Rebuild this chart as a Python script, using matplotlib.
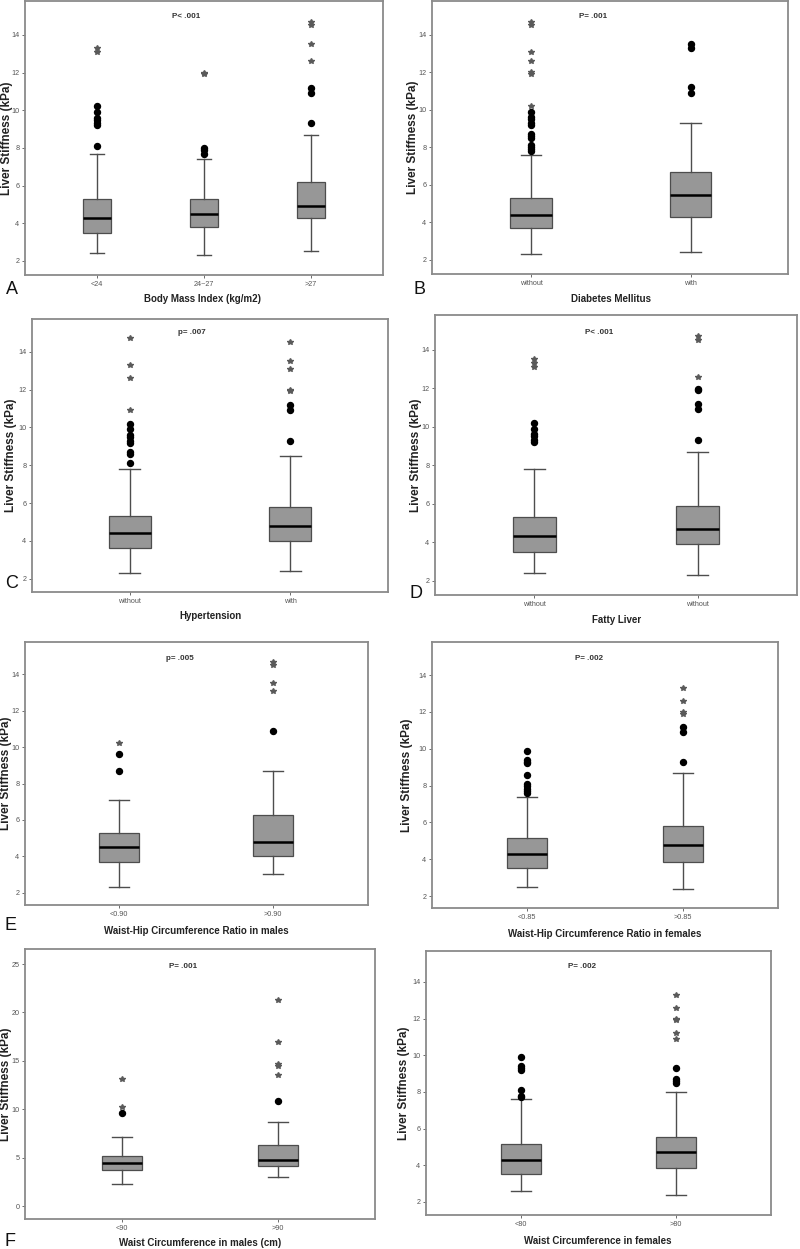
import matplotlib
matplotlib.use("Agg")
import matplotlib.pyplot as plt

plt.rcParams["font.family"] = ["Liberation Sans", "DejaVu Sans"]

# five-number summaries per group: [whisker low, q1, median, q3, whisker high]
bmi_labels = ["<24", "24~27", ">27"]
bmi_stats = [[2.4, 3.5, 4.3, 5.3, 7.7], [2.3, 3.8, 4.5, 5.3, 7.4], [2.5, 4.3, 4.9, 6.2, 8.7]]
bmi_out = [[8.1, 9.2, 9.3, 9.5, 9.6, 9.9, 10.2], [7.7, 7.9, 8.0], [9.3, 10.9, 11.2]]
bmi_ext = [[13.1, 13.3], [11.95, 12.0], [12.6, 13.5, 14.55, 14.7]]

dm_labels = ["without", "with"]
dm_stats = [[2.3, 3.7, 4.4, 5.3, 7.6], [2.4, 4.3, 5.45, 6.7, 9.3]]
dm_out = [[7.8, 7.9, 8.0, 8.1, 8.5, 8.6, 8.7, 9.2, 9.3, 9.5, 9.6, 9.9], [10.9, 11.2, 13.3, 13.5]]
dm_ext = [[10.2, 11.9, 12.0, 12.6, 13.1, 14.5, 14.7], []]

htn_labels = ["without", "with"]
htn_stats = [[2.3, 3.6, 4.4, 5.3, 7.8], [2.4, 4.0, 4.8, 5.8, 8.5]]
htn_out = [[8.1, 8.6, 8.7, 9.2, 9.3, 9.5, 9.6, 9.9, 10.2], [9.3, 10.9, 11.2]]
htn_ext = [[10.9, 12.6, 13.3, 14.7], [11.9, 12.0, 13.1, 13.5, 14.5]]

fl_labels = ["without", "without"]
fl_stats = [[2.4, 3.5, 4.35, 5.3, 7.8], [2.3, 3.9, 4.7, 5.9, 8.7]]
fl_out = [[9.2, 9.3, 9.5, 9.6, 9.9, 10.2], [9.3, 10.9, 11.2, 11.9, 11.95]]
fl_ext = [[13.1, 13.3, 13.5], [12.6, 14.5, 14.7]]

whr_m_labels = ["<0.90", ">0.90"]
whr_m_stats = [[2.3, 3.7, 4.5, 5.3, 7.1], [3.0, 4.0, 4.8, 6.25, 8.7]]
whr_m_out = [[8.7, 9.6], [10.9]]
whr_m_ext = [[10.2], [13.1, 13.5, 14.5, 14.7]]

whr_f_labels = ["<0.85", ">0.85"]
whr_f_stats = [[2.5, 3.55, 4.3, 5.15, 7.4], [2.4, 3.85, 4.75, 5.8, 8.7]]
whr_f_out = [[7.6, 7.7, 7.8, 8.0, 8.1, 8.6, 9.2, 9.3, 9.4, 9.9], [9.3, 10.9, 11.2]]
whr_f_ext = [[], [11.9, 12.0, 12.6, 13.3]]

wc_m_labels = ["<90", ">90"]
wc_m_stats = [[2.3, 3.7, 4.4, 5.2, 7.1], [3.0, 4.1, 4.8, 6.3, 8.7]]
wc_m_out = [[9.6], [10.9]]
wc_m_ext = [[10.2, 13.1], [13.5, 14.5, 14.7, 16.9, 21.3]]

wc_f_labels = ["<80", ">80"]
wc_f_stats = [[2.6, 3.5, 4.3, 5.15, 7.6], [2.4, 3.85, 4.7, 5.55, 8.0]]
wc_f_out = [[7.7, 7.8, 8.1, 9.2, 9.3, 9.4, 9.9], [8.5, 8.6, 8.7, 9.3]]
wc_f_ext = [[], [10.9, 11.2, 11.9, 12.0, 12.6, 13.3]]

p_texts = ["P< .001", "P= .001", "p= .007", "P< .001", "p= .005", "P= .002", "P= .001", "P= .002"]
x_titles = ["Body Mass Index (kg/m2)", "Diabetes Mellitus", "Hypertension", "Fatty Liver",
            "Waist-Hip Circumference Ratio in males", "Waist-Hip Circumference Ratio in females",
            "Waist Circumference in males (cm)", "Waist Circumference in females"]

W, H = 800, 1249
fig = plt.figure(figsize=(8, 12.49), dpi=100)

BOX_FILL = "#979797"
EDGE = "#4d4d4d"
FRAME = "#8a8a8a"
TICK = "#555555"


def px_axes(left, top, right, bottom):
    return fig.add_axes([left / W, 1 - bottom / H, (right - left) / W, (bottom - top) / H])


def ftext(x, y, s, **kw):
    fig.text(x / W, 1 - y / H, s, **kw)


# frame px box, xlim, ylim, yticks, p pos, xlabel pos, ylabel x
panels = [
    (bmi_labels, bmi_stats, bmi_out, bmi_ext, (25, 1, 383, 275), (0.33, 3.67), (1.25, 15.8), range(2, 15, 2), (186, 16), (203, 299), 7),
    (dm_labels, dm_stats, dm_out, dm_ext, (432, 1, 788, 274), (0.38, 2.61), (1.25, 15.8), range(2, 15, 2), (593, 17), (611, 299), 413),
    (htn_labels, htn_stats, htn_out, htn_ext, (32, 319, 388, 592), (0.39, 2.61), (1.3, 15.73), range(2, 15, 2), (192, 333), (210, 616), 11),
    (fl_labels, fl_stats, fl_out, fl_ext, (435, 315, 797, 595), (0.39, 2.61), (1.27, 15.8), range(2, 15, 2), (599, 333), (617, 620), 416),
    (whr_m_labels, whr_m_stats, whr_m_out, whr_m_ext, (25, 642, 368, 905), (0.39, 2.62), (1.32, 15.78), range(2, 15, 2), (180, 658), (196, 931), 6),
    (whr_f_labels, whr_f_stats, whr_f_out, whr_f_ext, (432, 642, 778, 908), (0.39, 2.61), (1.35, 15.8), range(2, 15, 2), (589, 658), (605, 934), 407),
    (wc_m_labels, wc_m_stats, wc_m_out, wc_m_ext, (25, 949, 375, 1219), (0.38, 2.62), (-1.34, 26.55), range(0, 26, 5), (183, 966), (200, 1243), 6),
    (wc_f_labels, wc_f_stats, wc_f_out, wc_f_ext, (426, 951, 771, 1215), (0.39, 2.61), (1.29, 15.69), range(2, 15, 2), (582, 966), (598, 1241), 404),
]

for i, (labels, stats, outs, exts, frame, xlim, ylim, yticks, ppos, xlpos, ylx) in enumerate(panels):
    ax = px_axes(*frame)
    bxp_stats = []
    for lab, s in zip(labels, stats):
        bxp_stats.append({"label": lab, "whislo": s[0], "q1": s[1], "med": s[2],
                          "q3": s[3], "whishi": s[4], "fliers": []})
    pos = list(range(1, len(labels) + 1))
    ax.bxp(bxp_stats, positions=pos, widths=0.26, patch_artist=True, showfliers=False,
           boxprops=dict(facecolor=BOX_FILL, edgecolor=EDGE, linewidth=0.9),
           medianprops=dict(color="black", linewidth=1.8),
           whiskerprops=dict(color=EDGE, linewidth=1.0),
           capprops=dict(color=EDGE, linewidth=1.0))
    for p, o, e in zip(pos, outs, exts):
        ax.plot([p] * len(o), o, "o", color="black", markersize=4.3, zorder=3)
        ax.plot([p] * len(e), e, "*", color="#5a5a5a", markersize=4.0, zorder=3)
    ax.set_xlim(*xlim)
    ax.set_ylim(*ylim)
    ax.set_yticks(list(yticks))
    ax.set_xticks(pos)
    ax.set_xticklabels(labels)
    ax.tick_params(axis="both", labelsize=5.2, colors=TICK, length=2.5, width=0.6, pad=1.5)
    for sp in ax.spines.values():
        sp.set_color(FRAME)
        sp.set_linewidth(1.3)
    ftext(ppos[0], ppos[1], p_texts[i], ha="center", va="center", fontsize=5.8, fontweight="bold", color="#333333")
    ftext(xlpos[0], xlpos[1], x_titles[i], ha="center", va="center", fontsize=7, fontweight="bold", color="#222222")
    ftext(ylx, (frame[1] + frame[3]) / 2, "Liver Stiffness (kPa)", ha="center", va="center",
          rotation=90, fontsize=8.5, fontweight="bold", color="#222222")

for letter, x, y in [("A", 12, 289), ("B", 419, 289), ("C", 12, 584), ("D", 416, 593), ("E", 10, 926), ("F", 10, 1241)]:
    ftext(x, y, letter, ha="center", va="center", fontsize=13, color="#111111")

fig.savefig("out.png", dpi=100)
